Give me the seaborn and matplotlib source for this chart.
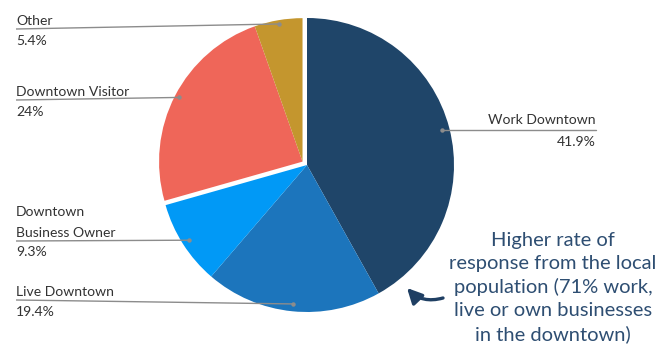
import numpy as np
import matplotlib
matplotlib.use("Agg")
import matplotlib.pyplot as plt
from matplotlib.patches import FancyArrowPatch
import seaborn as sns

# Survey respondents by relationship to the downtown (share, %)
categories = ["Work Downtown", "Live Downtown", "Downtown\nBusiness Owner",
              "Downtown Visitor", "Other"]
shares = [41.9, 19.4, 9.3, 24.0, 5.4]
share_labels = ["41.9%", "19.4%", "9.3%", "24%", "5.4%"]
slice_colors = ["#1f4569", "#1c75bc", "#0199f6", "#ef6659", "#c4962e"]
exploded = [False, False, False, True, True]
note = ("Higher rate of\nresponse from the local\npopulation (71% work,\n"
        "live or own businesses\nin the downtown)")

sns.set_theme(style="white")
plt.rcParams["font.family"] = ["Lato", "DejaVu Sans"]

W, H = 671, 347
fig = plt.figure(figsize=(W / 100, H / 100), dpi=100)
ax = fig.add_axes([0, 0, 1, 1])

cx, cy, R = 307.0, 165.0, 147.0
palette = sns.color_palette(slice_colors)

# y axis runs downward, so counterclock=True draws clockwise on screen
wedges, _ = ax.pie(shares, colors=palette, startangle=-90, counterclock=True,
                   center=(cx, cy), radius=R, frame=True,
                   wedgeprops=dict(linewidth=0))

# pull the visitor/other group out together along its mid direction
total = float(sum(shares))
cum = np.cumsum([0.0] + list(shares)) / total
grp = [i for i, e in enumerate(exploded) if e]
g_mid = (cum[grp[0]] + cum[grp[-1] + 1]) / 2
ang = np.deg2rad(-90 + 360 * g_mid)
off = 5.6
gdx, gdy = off * np.cos(ang), off * np.sin(ang)
R_grp = R * 0.976
for i in grp:
    wedges[i].set_center((cx + gdx, cy + gdy))
    wedges[i].set_radius(R_grp)

ax.set_xlim(0, W)
ax.set_ylim(H, 0)
ax.set_aspect("equal")
ax.axis("off")

line_c = "#8c8c8c"
txt_c = "#333333"
fs = 10.1

# dot positions at each slice's mid angle
dots = []
for i in range(len(shares)):
    mid = (cum[i] + cum[i + 1]) / 2
    a = np.deg2rad(-90 + 360 * mid)
    ox, oy = (gdx, gdy) if exploded[i] else (0, 0)
    dots.append((cx + ox + 0.95 * R * np.cos(a), cy + oy + 0.95 * R * np.sin(a)))

# left-hand labels: (index, y of leader line at the text)
left = {4: 29, 3: 100, 2: 241, 1: 300}
lx = 16
for i, ly in left.items():
    dx_, dy_ = dots[i]
    ax.plot([lx, dx_], [ly, dy_], color=line_c, lw=1.0, solid_capstyle="butt")
    ax.plot(dx_, dy_, "o", color=line_c, ms=3.2, mec="none")
    ax.text(lx, ly - 4.5, categories[i], ha="left", va="baseline", fontsize=fs,
            color=txt_c, linespacing=1.85)
    ax.text(lx, ly + 15.5, share_labels[i], ha="left", va="baseline",
            fontsize=fs, color=txt_c)

# right-hand label for the largest slice
wx, wy = dots[0]
rx = 596
ax.plot([wx, rx], [wy, wy], color=line_c, lw=1.0)
ax.plot(wx, wy, "o", color=line_c, ms=3.2, mec="none")
ax.text(rx, wy - 6, categories[0], ha="right", va="baseline", fontsize=fs,
        color=txt_c)
ax.text(rx, wy + 16, share_labels[0], ha="right", va="baseline", fontsize=fs,
        color=txt_c)

# callout
note_c = "#2e4e72"
ax.text(553, 340, note, ha="center", va="baseline", fontsize=14.5, color=note_c,
        linespacing=1.41)
arrow = FancyArrowPatch((443, 298), (407, 288), connectionstyle="arc3,rad=-0.3",
                        arrowstyle="-|>,head_length=9,head_width=4.5",
                        color="#1f3f63", lw=2.4, mutation_scale=1,
                        shrinkA=0, shrinkB=0)
ax.add_patch(arrow)

fig.savefig("out.png", dpi=100, facecolor="white")
